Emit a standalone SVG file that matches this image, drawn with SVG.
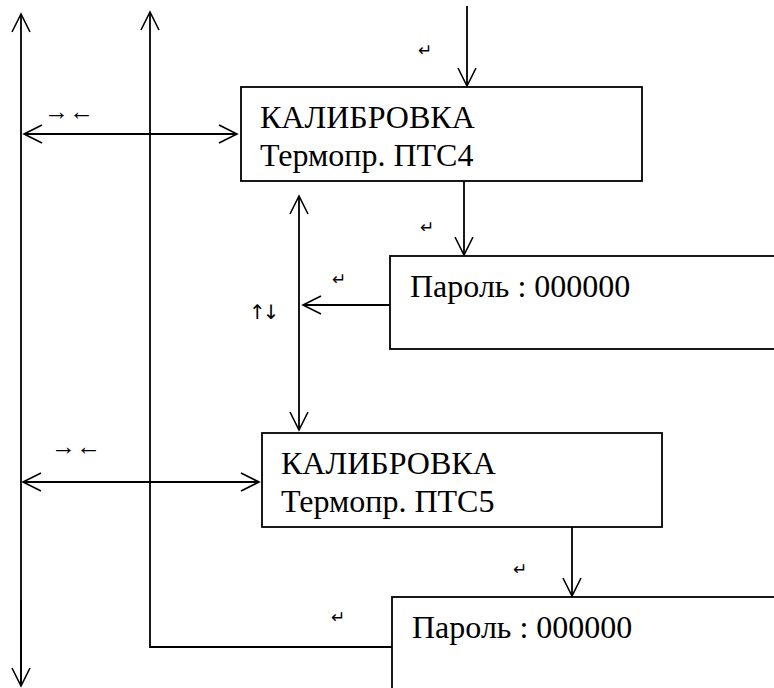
<svg xmlns="http://www.w3.org/2000/svg" width="774" height="688" viewBox="0 0 774 688">
<defs>
<marker id="ah" markerUnits="userSpaceOnUse" markerWidth="24" markerHeight="24" viewBox="-20 -12 24 24" refX="0" refY="0" orient="auto-start-reverse">
<path d="M-18,-9 L0,0 L-18,9" fill="none" stroke="#000" stroke-width="1.6"/>
</marker>
<style>
.box{fill:#fff;stroke:#000;stroke-width:1.8}
.ln{fill:none;stroke:#000;stroke-width:1.8}
.t{font-family:'Liberation Serif','Times New Roman',serif;font-size:32px;fill:#000}
.s{font-family:'DejaVu Sans',sans-serif;font-size:17px;fill:#000}
.a{font-family:'Liberation Serif','DejaVu Sans',serif;font-size:25px;fill:#000}
.v{font-family:'DejaVu Sans',sans-serif;font-size:20px;letter-spacing:-3px;fill:#000}
</style>
</defs>
<g id="connectors">
<line class="ln" x1="21" y1="686" x2="21" y2="14" marker-end="url(#ah)"/>
<line class="ln" x1="21" y1="686" x2="21" y2="600" marker-start="url(#ah)"/>
<polyline class="ln" points="392,647 150,647 150,12" marker-end="url(#ah)"/>
<line class="ln" x1="467" y1="6" x2="467" y2="86" marker-end="url(#ah)"/>
<line class="ln" x1="24" y1="134" x2="237" y2="134" marker-start="url(#ah)" marker-end="url(#ah)"/>
<line class="ln" x1="464" y1="181" x2="464" y2="255" marker-end="url(#ah)"/>
<line class="ln" x1="299" y1="196" x2="299" y2="430" marker-start="url(#ah)" marker-end="url(#ah)"/>
<line class="ln" x1="390" y1="305" x2="303" y2="305" marker-end="url(#ah)"/>
<line class="ln" x1="23" y1="482" x2="259" y2="482" marker-start="url(#ah)" marker-end="url(#ah)"/>
<line class="ln" x1="572" y1="527" x2="572" y2="596" marker-end="url(#ah)"/>
<text class="a" x="44" y="120">→←</text>
<text class="a" x="51" y="455">→←</text>
<text class="v" x="249" y="319">↑↓</text>
<text class="s" x="418" y="56">↵</text>
<text class="s" x="420" y="233">↵</text>
<text class="s" x="332" y="285">↵</text>
<text class="s" x="513" y="575">↵</text>
<text class="s" x="331" y="623">↵</text>
</g>
<g id="node-ptc4">
<rect class="box" x="241" y="87" width="401" height="94"/>
<text class="t" x="260" y="128">КАЛИБРОВКА</text>
<text class="t" x="260" y="166">Термопр. ПТС4</text>
</g>
<g id="node-pass1">
<rect class="box" x="390" y="256" width="400" height="93"/>
<text class="t" x="410" y="297">Пароль : 000000</text>
</g>
<g id="node-ptc5">
<rect class="box" x="262" y="433" width="400" height="94"/>
<text class="t" x="281" y="474">КАЛИБРОВКА</text>
<text class="t" x="281" y="512">Термопр. ПТС5</text>
</g>
<g id="node-pass2">
<rect class="box" x="392" y="597" width="400" height="100"/>
<text class="t" x="412" y="638">Пароль : 000000</text>
</g>
</svg>
